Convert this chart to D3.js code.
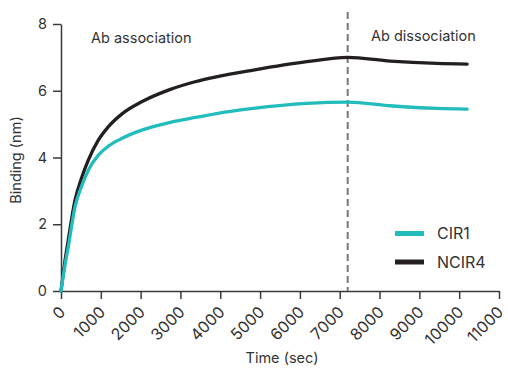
<!DOCTYPE html>
<html>
<head>
<meta charset="utf-8">
<script src="https://cdn.jsdelivr.net/npm/d3@7"></script>
<style>
  html, body { margin: 0; padding: 0; background: #fff; }
  svg { display: block; font-family: "Inter", "Lato", sans-serif; }
</style>
</head>
<body>
<svg id="chart" width="508" height="376"></svg>
<script>
// ---- data ----
const timeSec = [0, 90, 183, 352, 520, 686, 937, 1188, 1525, 2027, 2696, 3367, 3870, 4832, 6173, 7200, 8266, 9440, 10200];
const cir1    = [0, 0.70, 1.33, 2.52, 3.15, 3.62, 4.07, 4.34, 4.57, 4.82, 5.04, 5.20, 5.31, 5.47, 5.62, 5.66, 5.55, 5.47, 5.45];
const ncir4   = [0, 0.82, 1.53, 2.72, 3.40, 3.92, 4.52, 4.92, 5.30, 5.67, 6.02, 6.27, 6.41, 6.62, 6.87, 7.00, 6.89, 6.82, 6.80];
const seriesNames = ["CIR1", "NCIR4"];
const xTicks = [0, 1000, 2000, 3000, 4000, 5000, 6000, 7000, 8000, 9000, 10000, 11000];
const yTicks = [0, 2, 4, 6, 8];
const dissociationStart = 7200;
const phaseLabels = ["Ab association", "Ab dissociation"];

// ---- styles ----
const colors = { CIR1: "#22bcbc", NCIR4: "#231f20" };
const axisColor = "#3a3a3a";
const textColor = "#333";

const svg = d3.select("#chart");
const x = d3.scaleLinear().domain([0, 11000]).range([61, 499]);
const y = d3.scaleLinear().domain([0, 8]).range([291, 24]);

// axes
const gx = svg.append("g").attr("transform", `translate(0,${y(0)})`)
  .call(d3.axisBottom(x).tickValues(xTicks).tickSize(8).tickSizeOuter(0).tickFormat(d3.format("d")));
gx.selectAll("text")
  .attr("x", 0).attr("y", 0).attr("dx", null).attr("dy", null)
  .attr("transform", "translate(5,22) rotate(-45)")
  .attr("text-anchor", "end")
  .style("font-size", "16px")
  .attr("fill", textColor);

const gy = svg.append("g").attr("transform", `translate(${x(0)},0)`)
  .call(d3.axisLeft(y).tickValues(yTicks).tickSize(8).tickSizeOuter(0).tickPadding(6));
gy.selectAll("text").style("font-size", "14.5px").attr("fill", textColor);

svg.selectAll("g").attr("font-family", null).attr("font-size", null);
svg.selectAll(".domain, .tick line").attr("stroke", axisColor).attr("stroke-width", 1.5);

// axis titles
svg.append("text").attr("x", 282).attr("y", 363).attr("text-anchor", "middle")
  .style("font-size", "14.5px").attr("fill", textColor).text("Time (sec)");
svg.append("text").attr("transform", "translate(21,160) rotate(-90)")
  .attr("text-anchor", "middle").style("font-size", "14.5px").attr("fill", textColor).text("Binding (nm)");

// dissociation marker
svg.append("line")
  .attr("x1", x(dissociationStart)).attr("x2", x(dissociationStart))
  .attr("y1", 12).attr("y2", y(0))
  .attr("stroke", "#777").attr("stroke-width", 2).attr("stroke-dasharray", "7,4");

// phase labels
svg.append("text").attr("x", 91).attr("y", 43).style("font-size", "14.5px").attr("fill", textColor).text(phaseLabels[0]);
svg.append("text").attr("x", 371).attr("y", 41).style("font-size", "14.5px").attr("fill", textColor).text(phaseLabels[1]);

// lines (NCIR4 underneath, CIR1 on top)
const line = d3.line().x(d => x(d[0])).y(d => y(d[1])).curve(d3.curveMonotoneX);
const seriesData = { CIR1: cir1, NCIR4: ncir4 };
["NCIR4", "CIR1"].forEach(name => {
  svg.append("path")
    .datum(timeSec.map((t, i) => [t, seriesData[name][i]]))
    .attr("fill", "none")
    .attr("stroke", colors[name])
    .attr("stroke-width", 3.3)
    .attr("stroke-linecap", "round")
    .attr("stroke-linejoin", "round")
    .attr("d", line);
});

// legend
seriesNames.forEach((name, i) => {
  const ly = 233.5 + i * 28.5;
  svg.append("line").attr("x1", 395).attr("x2", 424).attr("y1", ly).attr("y2", ly)
    .attr("stroke", colors[name]).attr("stroke-width", 5);
  svg.append("text").attr("x", 437).attr("y", ly).attr("dy", "0.36em")
    .style("font-size", "16px").attr("fill", textColor).text(name);
});
</script>
</body>
</html>
